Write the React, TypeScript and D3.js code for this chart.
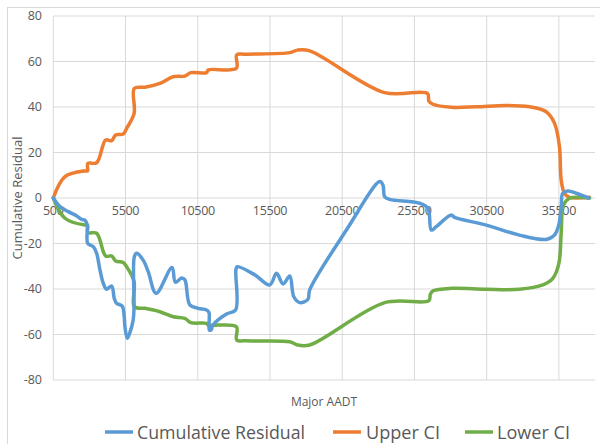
import React from "react";
import * as d3 from "d3";

const xTicks = [500, 5500, 10500, 15500, 20500, 25500, 30500, 35500];
const yTicks = [80, 60, 40, 20, 0, -20, -40, -60, -80];

const residualX = [500, 963, 1540, 2120, 2460, 2690, 2850, 2880, 3270, 3500, 3730, 3960, 4190, 4540, 4720, 4880, 5270, 5410, 5460, 5620, 5800, 6030, 6090, 6110, 6270, 6720, 7070, 7620, 8720, 8950, 9380, 9610, 9950, 10530, 11110, 11280, 11300, 11420, 11560, 12490, 13120, 13140, 13230, 14450, 15490, 15950, 16410, 16870, 17150, 17570, 18130, 18250, 20790, 23100, 23320, 23440, 23790, 25860, 26430, 26670, 27010, 28050, 28280, 30470, 32770, 34620, 35190, 35490, 35660, 35770, 36120, 36700, 37570];
const residualY = [0, -3.8, -6, -7.9, -9.4, -9.7, -11.9, -19.9, -21.4, -24.3, -31.6, -37.5, -40.1, -38.7, -44.1, -46.3, -47.5, -52.2, -56.6, -61.7, -59.2, -53.6, -47.8, -25.8, -24.3, -27.3, -32.4, -41.9, -30.5, -37, -35.2, -36, -47, -48.5, -49.2, -50.4, -58, -58, -55.8, -51, -49.2, -31.6, -30.2, -33.8, -38.2, -33.1, -37.8, -34.3, -43.4, -46, -44.5, -40.4, -14.1, 7.2, 5.7, 0.6, -0.6, -2.3, -4.5, -14.1, -12.6, -7.5, -8.5, -11.9, -16.3, -18.2, -16.3, -11.9, -3.8, 2.1, 3.1, 2.1, -0.1];

const upperX = [500, 1309, 2692, 2870, 2890, 3500, 4124, 4540, 4815, 5341, 5576, 6095, 6110, 6842, 7880, 8800, 9608, 10025, 11110, 11220, 13175, 13195, 13760, 16870, 17400, 18250, 23440, 26400, 26500, 26780, 28050, 29780, 31850, 33470, 34620, 35200, 35540, 35660, 35890, 36240, 37620];
const upperY = [0, 9.4, 11.9, 11.9, 15.2, 15.5, 25.5, 25.2, 27.7, 28.1, 30.6, 37.2, 48.2, 48.7, 50.4, 53.3, 53.6, 55.1, 55.1, 56.3, 57, 62.9, 63.2, 63.9, 65, 64.7, 46.3, 46, 42.6, 41.2, 39.9, 40.1, 40.7, 40.1, 37.9, 32.8, 22.5, 7.9, 2, 0.3, 0.3];

const lowerX = [500, 1309, 2692, 2870, 2890, 3500, 4124, 4540, 4815, 5341, 5576, 6095, 6110, 6842, 7880, 8800, 9608, 10025, 11110, 11220, 13175, 13195, 13760, 16870, 17400, 18250, 23440, 26500, 26600, 26800, 28050, 30470, 32770, 34390, 35080, 35500, 35660, 35820, 36240, 37620];
const lowerY = [0, -8.9, -11.9, -11.9, -15.2, -15.5, -25.5, -25.5, -27.7, -28.4, -30.2, -36.8, -47.8, -48.5, -50, -52.2, -52.9, -54.8, -55.1, -55.8, -56.6, -62.4, -62.8, -63.2, -64.6, -64.6, -46, -45.1, -42.3, -40.8, -39.7, -40.1, -40.1, -38.2, -35.3, -28.7, -15.5, -3.1, -0.1, 0];

const seriesNames = ["Cumulative Residual", "Upper CI", "Lower CI"];
const seriesColors = ["#5B9BD5", "#ED7D31", "#70AD47"];

const W = 600, H = 444;
const left = 53.3, right = 595, top = 16, bottom = 380;

export default function App() {
  const x = d3.scaleLinear().domain([500, 38000]).range([left, right]);
  const y = d3.scaleLinear().domain([-80, 80]).range([bottom, top]);
  const line = d3
    .line<[number, number]>()
    .x((d) => x(d[0]))
    .y((d) => y(d[1]))
    .curve(d3.curveCatmullRom.alpha(0.5));

  const zip = (a: number[], b: number[]) => a.map((v, i) => [v, b[i]] as [number, number]);
  const series = [zip(residualX, residualY), zip(upperX, upperY), zip(lowerX, lowerY)];
  const drawOrder = [1, 2, 0];
  const font = "'Open Sans', 'Liberation Sans', sans-serif";

  const legendItems = [
    { lx: 105, tx: 137, len: 168 },
    { lx: 333, tx: 366, len: 74 },
    { lx: 465, tx: 497, len: 73 },
  ];

  return (
    <svg width={W} height={H} style={{ position: "absolute", left: 0, top: 0, background: "#fff" }}>
      <rect x={7.5} y={7.5} width={620} height={460} fill="#fff" stroke="#d9d9d9" />
      {yTicks.map((t) => (
        <line key={"gy" + t} x1={left} x2={right} y1={y(t)} y2={y(t)} stroke="#d9d9d9" strokeWidth={1} />
      ))}
      {xTicks.map((t) => (
        <line key={"gx" + t} x1={x(t)} x2={x(t)} y1={top} y2={bottom} stroke="#d9d9d9" strokeWidth={1} />
      ))}
      {yTicks.map((t) => (
        <text key={"ty" + t} x={42} y={y(t)} dy="0.35em" textAnchor="end" fontSize={12.5} fill="#595959" fontFamily={font}>
          {t}
        </text>
      ))}
      {xTicks.map((t) => (
        <text key={"tx" + t} x={x(t)} y={y(0) + 17} textAnchor="middle" fontSize={12.5} fill="#595959" fontFamily={font} letterSpacing={-0.3}>
          {t}
        </text>
      ))}
      {drawOrder.map((i) => (
        <path key={"s" + i} d={line(series[i]) || ""} fill="none" stroke={seriesColors[i]} strokeWidth={3.5} strokeLinejoin="round" strokeLinecap="round" />
      ))}
      <text x={324} y={406} textAnchor="middle" fontSize={12} fill="#595959" fontFamily={font}>
        Major AADT
      </text>
      <text transform={`translate(22,${198}) rotate(-90)`} textAnchor="middle" fontSize={13} fill="#595959" fontFamily={font}>
        Cumulative Residual
      </text>
      {legendItems.map((it, i) => (
        <g key={"lg" + i}>
          <line x1={it.lx} x2={it.lx + 28} y1={432} y2={432} stroke={seriesColors[i]} strokeWidth={3.5} />
          <text x={it.tx} y={439} fontSize={19} fill="#595959" fontFamily={font} textLength={it.len} lengthAdjust="spacingAndGlyphs">
            {seriesNames[i]}
          </text>
        </g>
      ))}
    </svg>
  );
}
